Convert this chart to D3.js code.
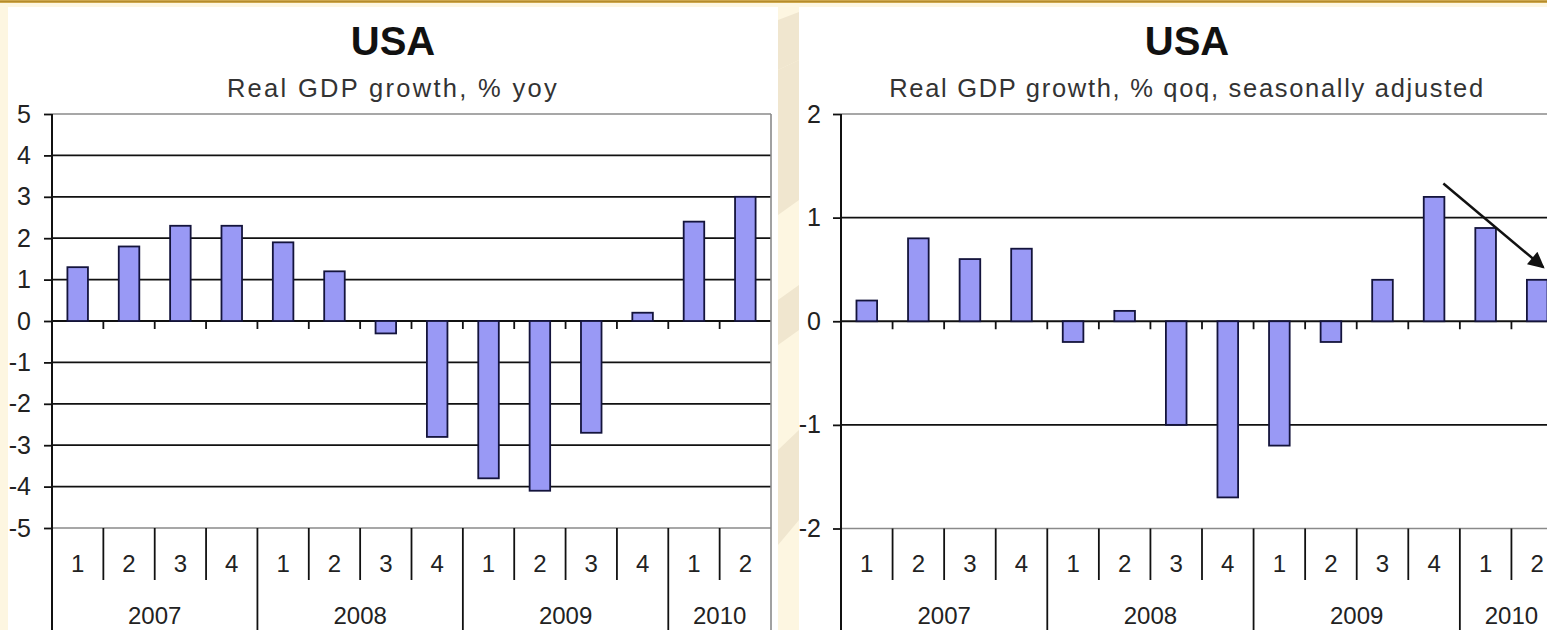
<!DOCTYPE html>
<html>
<head>
<meta charset="utf-8">
<script src="https://cdn.jsdelivr.net/npm/d3@7/dist/d3.min.js"></script>
<style>
  html, body { margin: 0; padding: 0; background: #fdf6e1; }
  svg { display: block; }
  text { font-family: "Liberation Sans", Arial, sans-serif; }
</style>
</head>
<body>
<svg id="chart" width="1547" height="630"></svg>
<script>
// Quarterly categories, grouped by year
const quarterLabels = ["1", "2", "3", "4", "1", "2", "3", "4", "1", "2", "3", "4", "1", "2"];
const yearLabels = ["2007", "2008", "2009", "2010"];
const quartersPerYear = [4, 4, 4, 2];

// Real GDP growth, % year on year
const yoyGrowth = [1.3, 1.8, 2.3, 2.3, 1.9, 1.2, -0.3, -2.8, -3.8, -4.1, -2.7, 0.2, 2.4, 3.0];
// Real GDP growth, % quarter on quarter, seasonally adjusted
const qoqGrowth = [0.2, 0.8, 0.6, 0.7, -0.2, 0.1, -1.0, -1.7, -1.2, -0.2, 0.4, 1.2, 0.9, 0.4];

const yoyTicks = [5, 4, 3, 2, 1, 0, -1, -2, -3, -4, -5];
const qoqTicks = [2, 1, 0, -1, -2];

// Trend arrow on the qoq chart: [category position, value]
const qoqArrowFrom = [11.68, 1.33];
const qoqArrowTo = [13.62, 0.52];

const svg = d3.select("#chart");
const W = 1547, H = 630;

// ---- page background ----
svg.append("rect").attr("width", W).attr("height", H).attr("fill", "#fdf6e1");
const deco = svg.append("g");
[
  "M778,20 L799,12 L799,60 L778,70 Z",
  "M778,70 L799,60 L799,200 L778,215 Z",
  "M778,300 L799,285 L799,330 L778,345 Z",
  "M778,450 L799,430 L799,520 L778,545 Z"
].forEach(p => deco.append("path").attr("d", p).attr("fill", "#f0e6cf"));
svg.append("rect").attr("x", 0).attr("y", 0).attr("width", W).attr("height", 3).attr("fill", "#d6b159");
svg.append("line").attr("x1", 0).attr("x2", W).attr("y1", 1.5).attr("y2", 1.5)
  .attr("stroke", "#b48b2c").attr("stroke-width", 1.5);

const keys = quarterLabels.map((q, i) => i);

function drawPanel(cfg) {
  const g = svg.append("g");
  // white chart panel
  g.append("rect").attr("x", cfg.panel.x).attr("y", cfg.panel.y)
    .attr("width", cfg.panel.w).attr("height", H - cfg.panel.y).attr("fill", "#ffffff");

  const x = d3.scaleBand().domain(keys).range([cfg.x0, cfg.x1]).paddingInner(0).paddingOuter(0);
  const xPos = d3.scaleLinear().domain([0, keys.length]).range([cfg.x0, cfg.x1]);
  const y = d3.scaleLinear().domain(cfg.domain).range([cfg.yBot, cfg.yTop]);
  const [vmin, vmax] = cfg.domain;

  // titles
  const cx = cfg.panel.x + cfg.panel.w / 2;
  g.append("text").attr("x", cx).attr("y", 55).attr("text-anchor", "middle")
    .attr("font-size", 40).attr("font-weight", "bold").attr("fill", "#111").text("USA");
  g.append("text").attr("x", cx).attr("y", 97).attr("text-anchor", "middle")
    .attr("font-size", 25.5).attr("letter-spacing", cfg.subtitleSpacing).attr("fill", "#333").text(cfg.subtitle);

  // horizontal gridlines
  g.append("g").selectAll("line").data(cfg.ticks).join("line")
    .attr("x1", cfg.x0).attr("x2", cfg.x1)
    .attr("y1", d => y(d)).attr("y2", d => y(d))
    .attr("stroke", d => (d === vmax || d === vmin) ? "#8a8a8a" : "#111")
    .attr("stroke-width", d => (d === vmax || d === vmin) ? 1.6 : 1.8);

  // right border of the plot area, running down through the category rows
  g.append("line").attr("x1", cfg.x1).attr("x2", cfg.x1).attr("y1", cfg.yTop).attr("y2", H)
    .attr("stroke", "#8a8a8a").attr("stroke-width", 1.6);

  // value axis (plain hyphen for negatives)
  const yAxis = d3.axisLeft(y).tickValues(cfg.ticks).tickSize(8).tickFormat(d => String(d));
  const ya = g.append("g").attr("transform", `translate(${cfg.x0},0)`).call(yAxis);
  ya.select(".domain").remove();
  ya.selectAll(".tick line").attr("stroke", "#111").attr("stroke-width", 1.8);
  ya.selectAll(".tick text").attr("x", cfg.labelX - cfg.x0).attr("font-size", 25)
    .attr("fill", "#222").attr("font-family", "'Liberation Sans', Arial, sans-serif");
  g.append("line").attr("x1", cfg.x0).attr("x2", cfg.x0).attr("y1", cfg.yTop).attr("y2", H)
    .attr("stroke", "#111").attr("stroke-width", 2);

  // category axis at zero with boundary ticks
  const zeroY = y(0);
  g.append("g").selectAll("line").data(d3.range(1, keys.length)).join("line")
    .attr("x1", d => xPos(d)).attr("x2", d => xPos(d))
    .attr("y1", zeroY).attr("y2", zeroY + 8)
    .attr("stroke", "#111").attr("stroke-width", 1.8);

  // bars
  const bw = x.bandwidth() * 0.4;
  g.append("g").selectAll("rect").data(cfg.values).join("rect")
    .attr("x", (d, i) => x(i) + (x.bandwidth() - bw) / 2)
    .attr("width", bw)
    .attr("y", d => y(Math.max(0, d)))
    .attr("height", d => Math.abs(y(d) - y(0)))
    .attr("fill", "#9999f5").attr("stroke", "#14143c").attr("stroke-width", 1.8);

  // multi-level category labels
  const yearStarts = d3.cumsum(quartersPerYear);
  const yearBounds = new Set(Array.from(yearStarts));
  g.append("g").selectAll("line").data(d3.range(1, keys.length)).join("line")
    .attr("x1", d => xPos(d)).attr("x2", d => xPos(d))
    .attr("y1", cfg.yBot).attr("y2", d => yearBounds.has(d) ? H : 580)
    .attr("stroke", "#111").attr("stroke-width", 1.8);

  g.append("g").selectAll("text").data(quarterLabels).join("text")
    .attr("x", (d, i) => x(i) + x.bandwidth() / 2).attr("y", 572)
    .attr("text-anchor", "middle").attr("font-size", 24).attr("fill", "#222").text(d => d);

  const yearStartIdx = [0, ...Array.from(yearStarts)];
  g.append("g").selectAll("text").data(yearLabels).join("text")
    .attr("x", (d, i) => (xPos(yearStartIdx[i]) + xPos(yearStartIdx[i + 1])) / 2).attr("y", 624)
    .attr("text-anchor", "middle").attr("font-size", 24).attr("fill", "#222").text(d => d);

  return { xPos, y, g };
}

drawPanel({
  panel: { x: 8, y: 7, w: 770 },
  x0: 52, x1: 771, yTop: 114, yBot: 528, labelX: 31,
  domain: [-5, 5], ticks: yoyTicks, values: yoyGrowth,
  subtitle: "Real GDP growth, % yoy", subtitleSpacing: 2.3
});

const right = drawPanel({
  panel: { x: 799, y: 7, w: 776 },
  x0: 841, x1: 1563, yTop: 114, yBot: 528.5, labelX: 821,
  domain: [-2, 2], ticks: qoqTicks, values: qoqGrowth,
  subtitle: "Real GDP growth, % qoq, seasonally adjusted", subtitleSpacing: 1.7
});

// trend arrow
const defs = svg.append("defs");
defs.append("marker").attr("id", "arrowHead").attr("viewBox", "0 0 10 10")
  .attr("refX", 9).attr("refY", 5).attr("markerWidth", 8.5).attr("markerHeight", 6.5)
  .attr("orient", "auto").attr("markerUnits", "strokeWidth")
  .append("path").attr("d", "M0,0 L10,5 L0,10 Z").attr("fill", "#111");
right.g.append("line")
  .attr("x1", right.xPos(qoqArrowFrom[0])).attr("y1", right.y(qoqArrowFrom[1]))
  .attr("x2", right.xPos(qoqArrowTo[0])).attr("y2", right.y(qoqArrowTo[1]))
  .attr("stroke", "#111").attr("stroke-width", 2.5).attr("marker-end", "url(#arrowHead)");
</script>
</body>
</html>
